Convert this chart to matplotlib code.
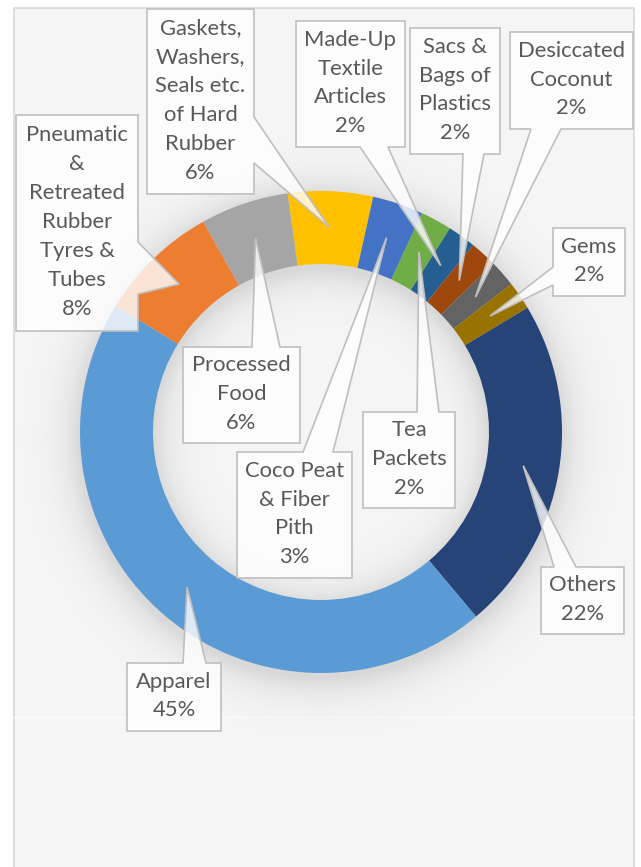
import numpy as np
import matplotlib.pyplot as plt
from matplotlib.patches import Polygon, Rectangle

plt.rcParams['font.family'] = ['Lato', 'DejaVu Sans']

# slices in clockwise order starting just left of 12 o'clock
categories = ['Gaskets,\nWashers,\nSeals etc.\nof Hard\nRubber',
              'Coco Peat\n& Fiber\nPith',
              'Tea\nPackets',
              'Made-Up\nTextile\nArticles',
              'Sacs &\nBags of\nPlastics',
              'Desiccated\nCoconut',
              'Gems',
              'Others',
              'Apparel',
              'Pneumatic\n&\nRetreated\nRubber\nTyres &\nTubes',
              'Processed\nFood']
shares = [5.7, 3.4, 2.1, 1.9, 1.8, 1.8, 1.9, 22.5, 44.9, 8.1, 5.9]
colors = ['#FFC000', '#4472C4', '#70AD47', '#255E91', '#9E480E', '#636363',
          '#997300', '#264478', '#5B9BD5', '#ED7D31', '#A5A5A5']

W, H = 641, 867
cx, cy_px, R, ring = 321, 432, 241, 73

# callout boxes in pixels: left, top, right, bottom, pointer side, pointer base
boxes = [
    (147, 9, 254, 194, 'right', 117, 163),
    (237, 452, 352, 578, 'top', 303, 333),
    (363, 412, 455, 508, 'top', 417, 439),
    (296, 21, 405, 147, 'bottom', 360, 388),
    (410, 28, 500, 154, 'bottom', 463, 484),
    (510, 32, 633, 129, 'bottom', 531, 561),
    (553, 228, 625, 296, 'left', 267, 285),
    (541, 567, 624, 634, 'top', 554, 576),
    (127, 663, 221, 731, 'top', 183, 206),
    (16, 115, 138, 331, 'right', 242, 294),
    (183, 347, 300, 443, 'top', 252, 280),
]


def callout(l, t, r, b, side, a0, a1, tip):
    if side == 'top':
        pts = [(l, t), (a0, t), tip, (a1, t), (r, t), (r, b), (l, b)]
    elif side == 'bottom':
        pts = [(l, t), (r, t), (r, b), (a1, b), tip, (a0, b), (l, b)]
    elif side == 'left':
        pts = [(l, t), (r, t), (r, b), (l, b), (l, a1), tip, (l, a0)]
    else:
        pts = [(l, t), (r, t), (r, a0), tip, (r, a1), (r, b), (l, b)]
    return [(x, H - y) for x, y in pts]


fig = plt.figure(figsize=(W / 100, H / 100), dpi=100)
ax = fig.add_axes([0, 0, 1, 1])

# chart area
ax.add_patch(Rectangle((13.5, -5), 620.5, H - 7.5 + 5, facecolor='#F5F5F5',
                       edgecolor='#D9D9D9', linewidth=1.2, zorder=0))
ax.plot([14, 633], [H - 717, H - 717], color='#FBFBFB', linewidth=1, zorder=0.5)

# soft shadow around the ring
yy, xx = np.mgrid[0:H, 0:W] + 0.5
rr = np.hypot(xx - cx, yy - (cy_px + 5))
d = np.maximum(np.maximum(rr - R, (R - ring) - rr), 0)
shade = np.zeros((H, W, 4))
shade[..., 3] = 0.12 * np.exp(-d / 18)
inside = (xx > 13) & (xx < 634) & (yy > 7)
shade[..., 3] *= inside
ax.imshow(shade, extent=(0, W, 0, H), origin='upper', zorder=1)

wedges, _ = ax.pie(shares, colors=colors, startangle=98, counterclock=False,
                   center=(cx, H - cy_px), radius=R,
                   wedgeprops=dict(width=ring, linewidth=0))
for w in wedges:
    w.set_zorder(2)

for w, name, v, bx in zip(wedges, categories, shares, boxes):
    l, t, r, b, side, a0, a1 = bx
    mid = np.deg2rad((w.theta1 + w.theta2) / 2)
    tip = (cx + 205 * np.cos(mid), cy_px - 205 * np.sin(mid))
    ax.add_patch(Polygon(callout(l, t, r, b, side, a0, a1, tip), closed=True,
                         facecolor='white', alpha=0.8, edgecolor='none',
                         zorder=3))
    ax.add_patch(Polygon(callout(l, t, r, b, side, a0, a1, tip), closed=True,
                         facecolor='none', edgecolor='#BFBFBF', linewidth=1.2,
                         zorder=4))
    ax.text((l + r) / 2, H - (t + b) / 2 + 1, f'{name}\n{round(v)}%',
            ha='center', va='center', multialignment='center',
            fontsize=15.8, color='#595959', linespacing=1.56, zorder=5)

ax.set_xlim(0, W)
ax.set_ylim(0, H)
ax.set_aspect('auto')
ax.axis('off')

fig.savefig('out.png', dpi=100, facecolor='white')
